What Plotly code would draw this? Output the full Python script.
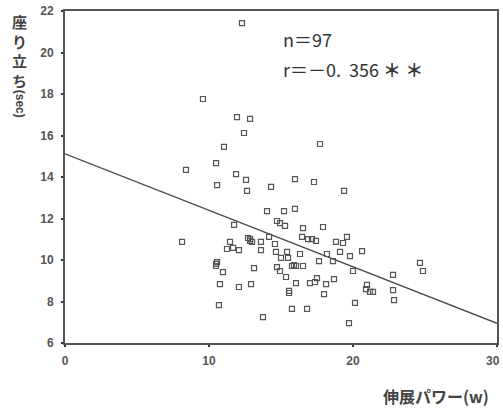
import plotly.graph_objects as go

# Scatter data: extension power (W) vs sit-to-stand time (sec)
power_w = [12.29, 9.58, 11.94, 12.85, 12.43, 17.71, 11.04, 10.49, 8.40, 11.88,
           12.57, 10.56, 12.64, 14.31, 15.97, 17.29, 19.38, 14.03, 15.21, 15.97,
           11.74, 14.72, 14.93, 15.28, 16.53, 17.92, 8.13, 12.71, 12.85, 12.99,
           13.61, 14.17, 11.46, 11.25, 11.67, 12.08, 13.61, 14.58, 14.65, 15.42,
           16.32, 15.00, 15.49, 15.76, 16.04, 16.53, 16.46, 16.88, 10.56, 10.49,
           10.97, 13.13, 14.72, 14.93, 15.35, 16.04, 10.76, 12.08, 12.92, 15.56,
           10.69, 15.76, 16.81, 13.75, 17.15, 17.43, 18.82, 19.31, 19.58, 18.19,
           19.10, 19.79, 20.63, 17.64, 18.61, 20.00, 22.78, 24.65, 24.86, 17.01,
           17.36, 17.50, 18.13, 18.68, 17.99, 20.97, 20.90, 21.18, 21.39, 22.78,
           22.85, 20.14, 19.72, 12.85, 10.49, 15.90, 15.56]
sit_stand_sec = [21.42, 17.76, 16.89, 16.80, 16.12, 15.59, 15.45, 14.67, 14.34, 14.14,
                 13.86, 13.61, 13.33, 13.52, 13.90, 13.76, 13.33, 12.36, 12.36, 12.46,
                 11.69, 11.88, 11.78, 11.64, 11.54, 11.59, 10.87, 11.06, 10.92, 10.87,
                 10.87, 11.11, 10.87, 10.53, 10.58, 10.48, 10.48, 10.77, 10.39, 10.39,
                 10.29, 10.10, 10.10, 9.71, 9.71, 9.71, 11.11, 11.01, 9.90, 9.71,
                 9.42, 9.61, 9.66, 9.47, 9.18, 8.89, 8.84, 8.70, 8.84, 8.41,
                 7.83, 7.64, 7.64, 7.25, 11.01, 10.92, 10.87, 10.82, 11.11, 10.29,
                 10.39, 10.19, 10.43, 9.95, 9.95, 9.47, 9.28, 9.86, 9.47, 8.89,
                 8.94, 9.13, 8.84, 9.08, 8.36, 8.80, 8.60, 8.46, 8.46, 8.55,
                 8.07, 7.93, 6.96, 11.01, 9.81, 9.76, 8.51]

# Regression line
fit_x = [0, 30]
fit_y = [15.12, 6.95]

x_ticks = [0, 10, 20, 30]
x_tick_labels = ["0", "10", "20", ""]
x_last_label = "30"
y_ticks = [6, 8, 10, 12, 14, 16, 18, 20, 22]

stat_n = "n＝97"
stat_r = "r＝－0.  356 <b>＊ ＊</b>"

fig = go.Figure()
fig.add_trace(go.Scatter(x=fit_x, y=fit_y, mode="lines",
                         line=dict(color="#4a4a4a", width=1.3), hoverinfo="skip"))
fig.add_trace(go.Scatter(x=power_w, y=sit_stand_sec, mode="markers",
                         marker=dict(symbol="square-open", size=5,
                                     line=dict(color="#555555", width=1.2),
                                     color="#555555")))

tickfont = dict(family="Liberation Sans, Arial, sans-serif", size=12,
                color="#555555", weight="bold")

fig.update_layout(
    width=503, height=410,
    margin=dict(l=65, r=6, t=11, b=67),
    paper_bgcolor="white", plot_bgcolor="white",
    showlegend=False,
    xaxis=dict(range=[0, 30], tickvals=x_ticks, ticktext=x_tick_labels,
               ticks="outside", ticklen=2, automargin=False,
               ticklabelstandoff=4,
               tickwidth=2, tickcolor="#333333",
               showgrid=False, zeroline=False, showline=True, mirror=True,
               linecolor="#555555", linewidth=1.6, tickfont=tickfont),
    yaxis=dict(range=[6, 22], tickvals=y_ticks, ticks="outside", ticklen=2,
               tickwidth=2, tickcolor="#333333", automargin=False,
               ticklabelstandoff=5,
               showgrid=False, zeroline=False, showline=True, mirror=True,
               linecolor="#555555", linewidth=1.8, tickfont=tickfont),
)

fig.add_annotation(text=x_last_label, x=30, y=6, xref="x", yref="y",
                   xanchor="right", yanchor="top", xshift=5, yshift=-9,
                   showarrow=False, font=tickfont)

cjk = "Noto Sans CJK JP"
fig.add_annotation(text="座<br>り<br>立<br>ち", xref="paper", yref="paper",
                   x=-0.105, y=1.005, xanchor="center", yanchor="top",
                   showarrow=False, align="center",
                   font=dict(family=cjk, size=15, color="#444444", weight="bold"))
fig.add_annotation(text="(sec)", xref="paper", yref="paper",
                   x=-0.105, y=0.77, xanchor="center", yanchor="top",
                   textangle=90, showarrow=False,
                   font=dict(family="Liberation Sans, Arial", size=12,
                             color="#444444", weight="bold"))
fig.add_annotation(text="伸展パワー(w)", xref="paper", yref="paper",
                   x=0.985, y=-0.118, xanchor="right", yanchor="top",
                   showarrow=False,
                   font=dict(family=cjk, size=16, color="#444444", weight="bold"))
fig.add_annotation(text=stat_n, xref="paper", yref="paper",
                   x=0.5, y=0.915, xanchor="left", yanchor="middle",
                   showarrow=False,
                   font=dict(family=cjk, size=18, color="#333333"))
fig.add_annotation(text=stat_r, xref="paper", yref="paper",
                   x=0.5, y=0.825, xanchor="left", yanchor="middle",
                   showarrow=False,
                   font=dict(family=cjk, size=18, color="#333333"))

fig.write_html("out.html", config={"displayModeBar": False},
               post_script="document.body.style.margin='0';")
